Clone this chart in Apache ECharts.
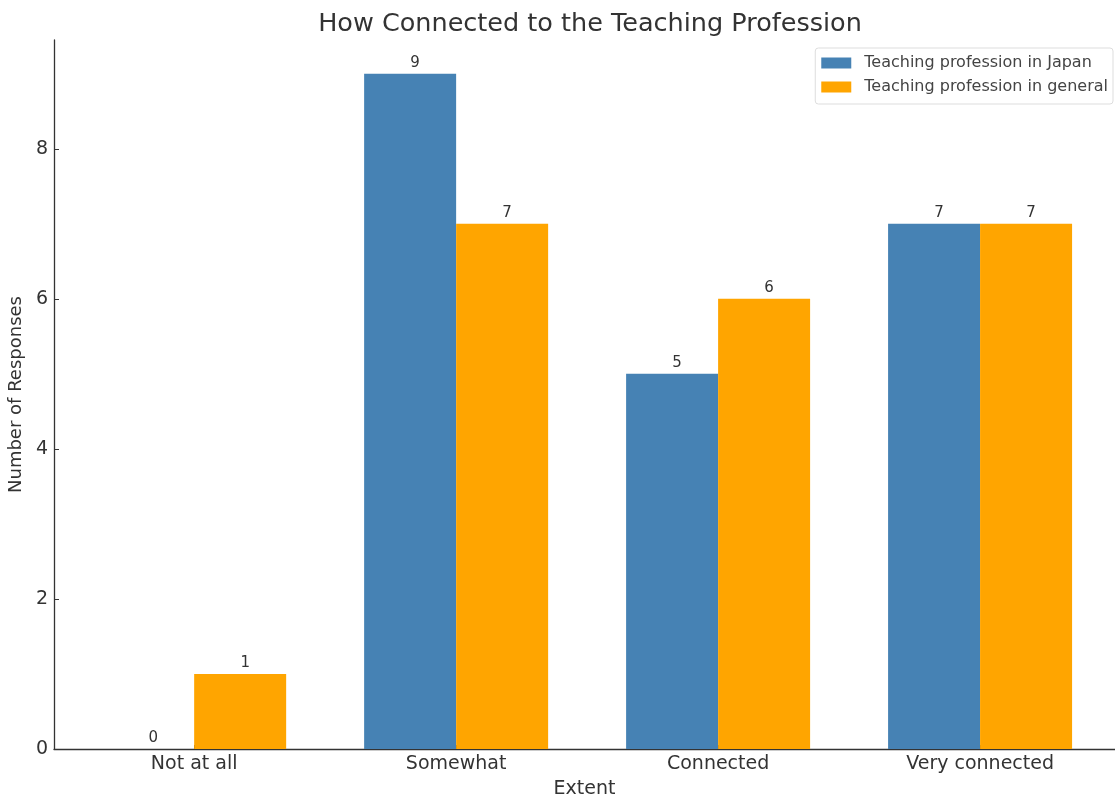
<!DOCTYPE html>
<html><head><meta charset="utf-8">
<script src="https://cdn.jsdelivr.net/npm/echarts@6/dist/echarts.min.js"></script>
<style>html,body{margin:0;padding:0;background:#fff}#c{width:1115px;height:796px}</style>
</head><body><div id="c"></div>
<script>
const categories = ["Not at all", "Somewhat", "Connected", "Very connected"];
const japan = [0, 9, 5, 7];
const general = [1, 7, 6, 7];
const seriesNames = ["Teaching profession in Japan", "Teaching profession in general"];

const font = "DejaVu Sans";
const chart = echarts.init(document.getElementById('c'));
const catIdx = categories.map((c, i) => i);
const lbl = {show: true, position: 'top', distance: 3, offset: [5, 0], color: '#333', fontFamily: font, fontSize: 15};
chart.setOption({
  animation: false,
  title: {text: "How Connected to the Teaching Profession", left: 585, top: 6, textAlign: 'center',
    textStyle: {fontFamily: font, fontSize: 25.5, fontWeight: 'normal', color: '#333'}},
  legend: {right: 2, top: 48, orient: 'vertical', itemWidth: 30, itemHeight: 11, itemGap: 8,
    padding: [7, 5, 9, 6], borderColor: '#ddd', borderWidth: 1, borderRadius: 3,
    textStyle: {fontFamily: font, fontSize: 16, color: '#444', padding: [0, 0, 0, 8]},
    data: seriesNames.map(n => ({name: n, icon: 'rect'}))},
  grid: {left: 54, right: 0, top: 40, bottom: 47, containLabel: false, outerBoundsMode: 'none'},
  xAxis: {type: 'value', min: -0.535, max: 3.515, splitLine: {show: false},
    name: 'Extent', nameLocation: 'middle', nameGap: 31, nameTextStyle: {fontFamily: font, fontSize: 19, color: '#333'},
    axisLine: {onZero: false, lineStyle: {color: '#333', width: 1.3}},
    axisTick: {show: true, inside: true, length: 4, lineStyle: {color: '#333'}, customValues: catIdx},
    axisLabel: {fontFamily: font, fontSize: 19, color: '#333', margin: 6, customValues: catIdx,
      formatter: v => categories[Math.round(v)]}},
  yAxis: {type: 'value', min: 0, max: 9.45, interval: 2, splitLine: {show: false},
    name: 'Number of Responses', nameLocation: 'middle', nameGap: 27,
    nameTextStyle: {fontFamily: font, fontSize: 18, color: '#333'},
    axisLine: {show: true, onZero: false, lineStyle: {color: '#333', width: 1.3}},
    axisTick: {show: true, inside: true, length: 5, lineStyle: {color: '#333'}},
    axisLabel: {fontFamily: font, fontSize: 19, color: '#333', margin: 6, showMaxLabel: false}},
  series: [
    {name: seriesNames[0], type: 'bar', barWidth: 92, barGap: '0%', itemStyle: {color: '#4682B4'},
      label: lbl, data: japan.map((v, i) => [i, v])},
    {name: seriesNames[1], type: 'bar', barWidth: 92, barGap: '0%', itemStyle: {color: '#FFA500'},
      label: lbl, data: general.map((v, i) => [i, v])}
  ]
});
</script></body></html>
